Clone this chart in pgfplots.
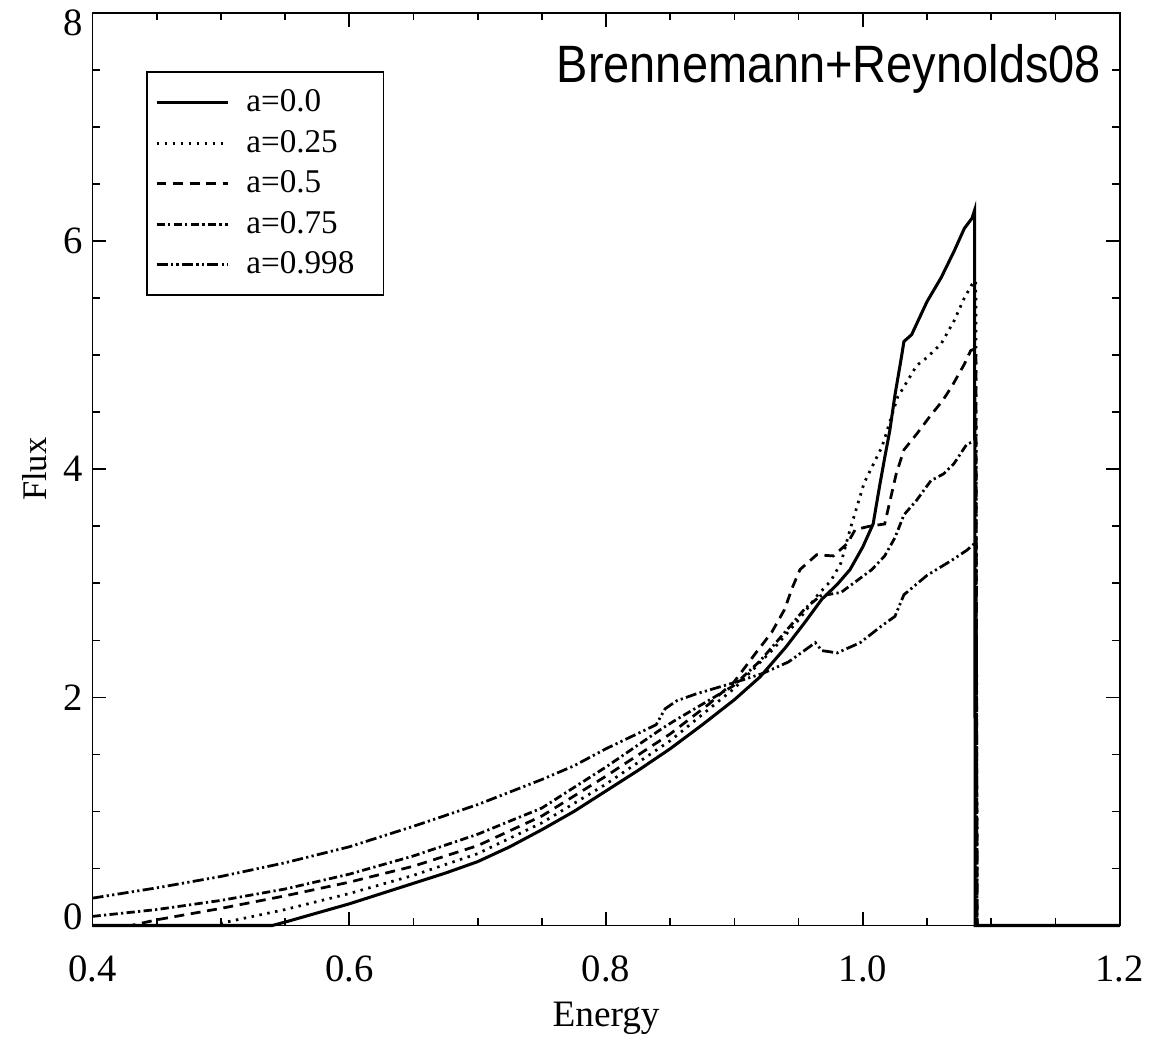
\documentclass[border=0pt]{standalone}
\usepackage{fontspec}
\setmainfont{Liberation Serif}
\newfontfamily\titlefont{Liberation Sans}
\usepackage{graphicx}
\usepackage{pgfplots}
\pgfplotsset{compat=1.18}

\pgfplotstableread{
x y
0.400 0
0.540 0
0.550 0.03
0.575 0.11
0.600 0.19
0.625 0.28
0.650 0.37
0.675 0.46
0.700 0.56
0.725 0.69
0.750 0.84
0.775 1.00
0.800 1.18
0.825 1.36
0.850 1.55
0.875 1.76
0.900 1.98
0.920 2.18
0.940 2.44
0.955 2.66
0.968 2.86
0.980 2.99
0.990 3.12
1.000 3.32
1.008 3.52
1.013 3.85
1.017 4.10
1.021 4.34
1.025 4.65
1.030 4.98
1.032 5.12
1.038 5.18
1.050 5.47
1.061 5.68
1.071 5.91
1.079 6.11
1.085 6.20
1.087 6.27
1.0875 0
1.200 0
}\dataA

\pgfplotstableread{
x y
0.400 0
0.495 0
0.500 0.02
0.525 0.08
0.550 0.14
0.600 0.28
0.650 0.44
0.700 0.63
0.750 0.90
0.800 1.24
0.850 1.62
0.900 2.08
0.930 2.42
0.950 2.68
0.965 2.90
0.975 3.02
0.983 3.18
0.990 3.47
1.001 3.88
1.015 4.20
1.027 4.63
1.042 4.91
1.050 4.98
1.061 5.10
1.071 5.30
1.079 5.50
1.085 5.62
1.088 5.65
1.089 0
1.200 0
}\dataB

\pgfplotstableread{
x y
0.400 0
0.430 0
0.450 0.05
0.500 0.15
0.550 0.26
0.600 0.38
0.650 0.52
0.700 0.70
0.750 0.96
0.800 1.31
0.850 1.68
0.880 1.94
0.900 2.14
0.916 2.38
0.929 2.57
0.939 2.77
0.945 2.96
0.951 3.12
0.964 3.25
0.977 3.24
0.988 3.35
0.994 3.47
1.005 3.50
1.017 3.52
1.026 3.96
1.032 4.17
1.042 4.31
1.052 4.46
1.062 4.60
1.069 4.72
1.079 4.92
1.084 5.04
1.088 5.06
1.089 0
1.200 0
}\dataC

\pgfplotstableread{
x y
0.400 0.08
0.450 0.14
0.500 0.22
0.550 0.32
0.600 0.45
0.650 0.61
0.700 0.80
0.750 1.03
0.800 1.39
0.844 1.73
0.854 1.80
0.899 2.10
0.920 2.32
0.940 2.58
0.955 2.78
0.967 2.89
0.983 2.92
1.007 3.12
1.017 3.24
1.025 3.40
1.032 3.60
1.042 3.73
1.053 3.90
1.063 3.96
1.071 4.05
1.081 4.22
1.088 4.25
1.089 0
1.200 0
}\dataD

\pgfplotstableread{
x y
0.400 0.24
0.450 0.33
0.500 0.43
0.550 0.55
0.600 0.69
0.650 0.87
0.700 1.06
0.750 1.28
0.775 1.40
0.800 1.55
0.839 1.76
0.846 1.90
0.855 1.97
0.870 2.03
0.900 2.13
0.922 2.21
0.942 2.31
0.963 2.48
0.968 2.41
0.980 2.39
0.998 2.48
1.015 2.63
1.025 2.71
1.032 2.90
1.050 3.07
1.069 3.20
1.081 3.29
1.088 3.36
1.089 0
1.200 0
}\dataE

\begin{document}
\begin{tikzpicture}
\begin{axis}[
  name=main,
  scale only axis,
  width=372pt, height=330.5pt,
  xmin=0.4, xmax=1.2, ymin=0, ymax=8,
  clip=false,
  xtick={0.4,0.6,0.8,1.0,1.2},
  xticklabels={0.4,0.6,0.8,1.0,1.2},
  ytick={0,2,4,6,8},
  yticklabels={\raisebox{-1.4pt}[0pt][0pt]{0},2,4,6,\raisebox{-8.2pt}[0pt][0pt]{8}},
  minor x tick num=3,
  minor y tick num=3,
  tick align=inside,
  major tick length=5pt,
  minor tick length=2.6pt,
  tick style={black, line width=0.6pt},
  axis line style={line width=0.7pt},
  /pgf/number format/assume math mode=true,
  tick label style={font=\fontsize{14}{16}\selectfont},
  xticklabel style={yshift=-7.5pt},
  xlabel={Energy},
  ylabel={Flux},
  xlabel style={font=\fontsize{13.5}{15}\selectfont, yshift=-0.5pt},
  ylabel style={font=\fontsize{12.5}{14}\selectfont, yshift=-1pt},
  legend style={
    at={(0.052,0.936)}, anchor=north west,
    draw=black, line width=0.6pt,
    font=\fontsize{12}{14}\selectfont,
    inner xsep=3pt, inner ysep=4.3pt,
    row sep=1.2pt,
  },
  legend cell align=left,
  legend image code/.code={\draw[#1] (0pt,0pt) -- (26pt,0pt); \path (30pt,0pt);},
]
\addplot[black, line width=1.1pt] table[x=x,y=y] {\dataA};
\addlegendentry{a=0.0}
\addplot[black, line width=1pt, dash pattern=on 0.9pt off 2pt] table[x=x,y=y] {\dataB};
\addlegendentry{a=0.25}
\addplot[black, line width=1pt, dash pattern=on 3.6pt off 2.4pt] table[x=x,y=y] {\dataC};
\addlegendentry{a=0.5}
\addplot[black, line width=1pt, dash pattern=on 3pt off 1.2pt on 0.8pt off 1.2pt] table[x=x,y=y] {\dataD};
\addlegendentry{a=0.75}
\addplot[black, line width=1pt, dash pattern=on 4pt off 1.2pt on 0.8pt off 1.2pt on 0.8pt off 1.2pt] table[x=x,y=y] {\dataE};
\addlegendentry{a=0.998\rule{5.5pt}{0pt}}
\node[font=\titlefont\fontsize{17}{19}\selectfont, inner sep=0pt] at (axis cs:0.9735,7.51) {\scalebox{1}[1.12]{Brennemann+Reynolds08}};
\end{axis}
\useasboundingbox ([shift={(-33.5pt,-37.2pt)}]main.south west) rectangle ([shift={(9.35pt,4.7pt)}]main.north east);
\end{tikzpicture}
\end{document}
